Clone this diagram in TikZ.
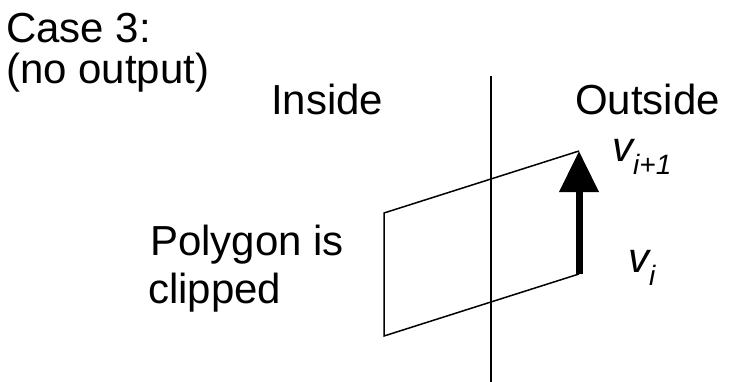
\documentclass[tikz,border=0pt]{standalone}
\usepackage{fontspec}
\setmainfont{Liberation Sans}
\usetikzlibrary{arrows.meta}
\tikzset{
  lbl/.style={inner sep=0pt, anchor=base west, font=\fontsize{42}{46}\selectfont},
  thin/.style={line width=1.5pt},
  bigarrow/.style={line width=7pt, -{Triangle[width=38pt,length=41pt]}}
}
\newcommand{\subtxt}[1]{\raisebox{-0.32em}{\fontsize{28}{28}\selectfont #1}}
\begin{document}
\begin{tikzpicture}[x=1pt,y=-1pt]
\useasboundingbox (0,0) rectangle (730,382);
% labels
\node[lbl] (case) at (6,43) {Case 3:};
\node[lbl] (noout) at (6,84) {(no output)};
\node[lbl] (inside) at (271,115) {Inside};
\node[lbl] (outside) at (575,115) {Outside};
\node[lbl] (poly) at (150,255) {Polygon is};
\node[lbl] (clip) at (148,303) {clipped};
\node[lbl] (vip) at (612,161) {\itshape v\subtxt{i+1}};
\node[lbl] (vi) at (628,272) {\itshape v\subtxt{i}};
% clip boundary
\coordinate (btop) at (491,76);
\coordinate (bbot) at (491,382);
\draw[thin] (btop) -- (bbot);
% polygon
\coordinate (p1) at (384,213);
\coordinate (p2) at (579,151);
\coordinate (p3) at (579,274);
\coordinate (p4) at (384,336);
\draw[thin] (p2) -- (p1) -- (p4) -- (p3);
% edge vi -> vi+1
\draw[bigarrow] (p3) -- (p2);
\end{tikzpicture}
\end{document}
